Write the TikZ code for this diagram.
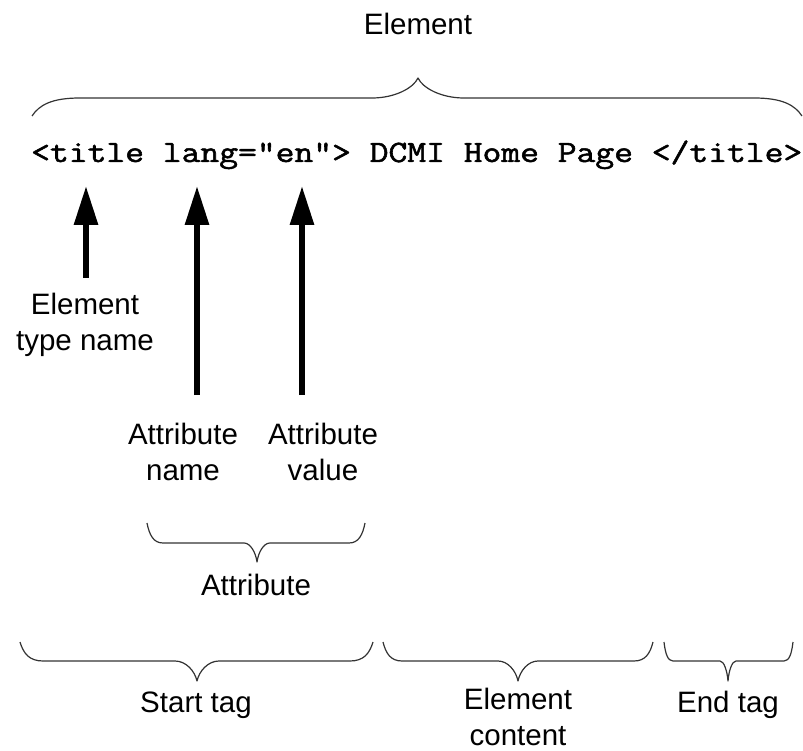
\documentclass[tikz,border=0pt]{standalone}
\usepackage{fontspec}
\setmainfont{Liberation Sans}
\newfontfamily\codefont[FakeBold=1.6]{Latin Modern Mono}
\usetikzlibrary{arrows.meta}

% Horizontal curly brace:
% #1 left x, #2 right x, #3 tip x, #4 end y, #5 flat y, #6 tip y,
% #7 width of the end curls, #8 half width of the tip
\newcommand\curlybrace[8]{%
  \draw[bracestyle] (#1,#4)
    .. controls ({#1+0.15*#7},{#4+0.6*(#5-#4)}) and ({#1+0.4*#7},#5) .. ({#1+#7},#5)
    -- ({#3-#8},#5)
    .. controls ({#3-0.5*#8},#5) and ({#3-0.1*#8},{#5+0.5*(#6-#5)}) .. (#3,#6)
    .. controls ({#3+0.1*#8},{#5+0.5*(#6-#5)}) and ({#3+0.5*#8},#5) .. ({#3+#8},#5)
    -- ({#2-#7},#5)
    .. controls ({#2-0.4*#7},#5) and ({#2-0.15*#7},{#4+0.6*(#5-#4)}) .. (#2,#4);}

\begin{document}
\begin{tikzpicture}[x=1pt,y=-1pt,
  bracestyle/.style={draw=black!80,line width=1.2pt,line join=round},
  label/.style={inner sep=0pt,anchor=base,align=center,
    font=\fontsize{29.5}{36}\selectfont},
  codeline/.style={inner sep=0pt,anchor=base west,
    font=\codefont\fontsize{31}{36}\selectfont},
  pointer/.style={line width=6pt,-{Triangle[length=39pt,width=23pt]}}]
\useasboundingbox (0,0) rectangle (803,751);

% the markup line, set wide like a typewriter face
\node[codeline] (code) at (31,162)
  {\scalebox{1.178}[1]{<title lang="en"> DCMI Home Page </title>}};

% whole element
\node[label] (element) at (418,35) {Element};
\curlybrace{32}{802}{418}{116}{98}{78}{48}{46}

% arrows pointing at the parts of the start tag
\coordinate (a1s) at (86,278);  \coordinate (a1e) at (86,186);
\coordinate (a2s) at (197,395); \coordinate (a2e) at (197,186);
\coordinate (a3s) at (302,395); \coordinate (a3e) at (302,186);
\draw[pointer] (a1s) -- (a1e);
\draw[pointer] (a2s) -- (a2e);
\draw[pointer] (a3s) -- (a3e);

% two-line labels sit on the baseline of their last line
\node[label] (etype) at (85,350) {Element\\type name};
\node[label] (aname) at (183,480) {Attribute\\name};
\node[label] (avalue) at (323,480) {Attribute\\value};

% attribute
\curlybrace{147}{365}{257}{523}{543}{562}{16}{13}
\node[label] (attr) at (256,595) {Attribute};

% start tag, content, end tag
\curlybrace{20}{373}{197}{642}{661}{681}{23}{22}
\curlybrace{383}{653}{518}{642}{661}{681}{19}{20}
\curlybrace{664}{793}{728}{642}{661}{681}{9}{8}
\node[label] (stag) at (196,712) {Start tag};
\node[label] (content) at (518,745) {Element\\content};
\node[label] (etag) at (728,712) {End tag};
\end{tikzpicture}
\end{document}
